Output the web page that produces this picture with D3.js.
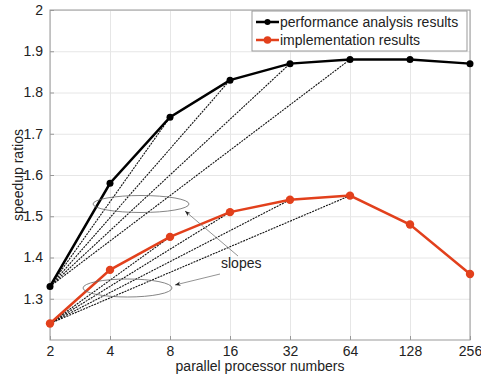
<!DOCTYPE html>
<html lang="en">
<head>
<meta charset="utf-8">
<title>speedup</title>
<script src="https://cdn.jsdelivr.net/npm/d3@7"></script>
<style>
  body { margin: 0; background: #fff; }
  text { font-family: "Liberation Sans", Arial, sans-serif; fill: #222; }
  .grid line { stroke: #e6e6e6; }
  .grid path { display: none; }
</style>
</head>
<body>
<script>
// data
var procs = [2, 4, 8, 16, 32, 64, 128, 256];
var perf = [1.33, 1.58, 1.74, 1.83, 1.87, 1.88, 1.88, 1.87];
var impl = [1.24, 1.37, 1.45, 1.51, 1.54, 1.55, 1.48, 1.36];
var yTicks = [1.3, 1.4, 1.5, 1.6, 1.7, 1.8, 1.9, 2];
var slopeTo = [4, 8, 16, 32, 64];   // dotted slope lines from x=2
var seriesNames = ["performance analysis results", "implementation results"];
var red = "#e2401c";

var W = 481, H = 376;
var margin = {top: 10, right: 11, bottom: 36, left: 50};
var w = W - margin.left - margin.right;
var h = H - margin.top - margin.bottom;

var svg = d3.select("body").append("svg")
    .attr("width", W).attr("height", H);
var g = svg.append("g")
    .attr("transform", "translate(" + margin.left + "," + margin.top + ")");

var x = d3.scaleLog().base(2).domain([2, 256]).range([0, w]);
var y = d3.scaleLinear().domain([1.2, 2]).range([h, 0]);

// grid
g.append("g").attr("class", "grid")
    .attr("transform", "translate(0," + h + ")")
    .call(d3.axisBottom(x).tickValues(procs).tickSize(-h).tickFormat(""));
g.append("g").attr("class", "grid")
    .call(d3.axisLeft(y).tickValues(yTicks).tickSize(-w).tickFormat(""));

// frame
g.append("rect").attr("width", w).attr("height", h)
    .attr("fill", "none").attr("stroke", "#999").attr("stroke-width", 1);

// tick marks (inside) and labels
var xa = g.append("g").attr("transform", "translate(0," + h + ")")
    .call(d3.axisBottom(x).tickValues(procs).tickSize(-4).tickPadding(6).tickFormat(d3.format("d")));
var ya = g.append("g")
    .call(d3.axisLeft(y).tickValues(yTicks).tickSize(-4).tickPadding(7).tickFormat(function(d){ return d === 2 ? "2" : d3.format(".1f")(d); }));
[xa, ya].forEach(function(a) {
  a.select(".domain").remove();
  a.selectAll("line").attr("stroke", "#999");
  a.selectAll("text").style("font-size", "14px").attr("fill", "#222");
});

// dotted slope lines
function slopes(vals) {
  slopeTo.forEach(function(p) {
    var i = procs.indexOf(p);
    g.append("line")
      .attr("x1", x(procs[0])).attr("y1", y(vals[0]))
      .attr("x2", x(p)).attr("y2", y(vals[i]))
      .attr("stroke", "#111").attr("stroke-width", 1.1)
      .attr("stroke-dasharray", "2,1");
  });
}
slopes(perf);
slopes(impl);

var line = d3.line().x(function(d, i) { return x(procs[i]); }).y(function(d) { return y(d); });

function series(vals, col, r) {
  g.append("path").datum(vals).attr("d", line)
    .attr("fill", "none").attr("stroke", col).attr("stroke-width", 2.5);
  g.selectAll(null).data(vals).enter().append("circle")
    .attr("cx", function(d, i) { return x(procs[i]); })
    .attr("cy", function(d) { return y(d); })
    .attr("r", r).attr("fill", col);
}
series(impl, red, 4.2);
series(perf, "#000", 3.5);

// ellipses and arrows for "slopes"
svg.append("defs").append("marker")
    .attr("id", "arr").attr("viewBox", "0 0 10 10")
    .attr("refX", 10).attr("refY", 5)
    .attr("markerWidth", 7).attr("markerHeight", 7)
    .attr("orient", "auto")
  .append("path").attr("d", "M0,1 L10,5 L0,9 L3,5 Z").attr("fill", "#222");

var ann = svg.append("g");
ann.append("ellipse").attr("cx", 141).attr("cy", 204).attr("rx", 48).attr("ry", 8.5)
    .attr("fill", "none").attr("stroke", "#666").attr("stroke-width", 0.8);
ann.append("ellipse").attr("cx", 127.5).attr("cy", 288).attr("rx", 44.5).attr("ry", 9)
    .attr("fill", "none").attr("stroke", "#666").attr("stroke-width", 0.8);
ann.append("line").attr("x1", 238).attr("y1", 256).attr("x2", 185).attr("y2", 211)
    .attr("stroke", "#777").attr("stroke-width", 0.8).attr("marker-end", "url(#arr)");
ann.append("line").attr("x1", 220).attr("y1", 274).attr("x2", 175).attr("y2", 285)
    .attr("stroke", "#777").attr("stroke-width", 0.8).attr("marker-end", "url(#arr)");
ann.append("text").attr("x", 221).attr("y", 268).style("font-size", "14px").text("slopes");

// legend
var lg = svg.append("g").attr("transform", "translate(252,11)");
lg.append("rect").attr("width", 215).attr("height", 40)
    .attr("fill", "#fff").attr("stroke", "#999").attr("stroke-width", 1);
[["#000", 3], [red, 3.8]].forEach(function(s, i) {
  var yy = 11 + i * 18;
  lg.append("line").attr("x1", 4).attr("x2", 27).attr("y1", yy).attr("y2", yy)
    .attr("stroke", s[0]).attr("stroke-width", 2.5);
  lg.append("circle").attr("cx", 15.5).attr("cy", yy).attr("r", s[1]).attr("fill", s[0]);
  lg.append("text").attr("x", 28).attr("y", yy + 5).style("font-size", "14px").text(seriesNames[i]);
});

// axis titles
svg.append("text").attr("x", 260).attr("y", 371).attr("text-anchor", "middle")
    .style("font-size", "14px").text("parallel processor numbers");
svg.append("text").attr("transform", "translate(23,175) rotate(-90)").attr("text-anchor", "middle")
    .style("font-size", "14px").text("speedup ratios");
</script>
</body>
</html>
